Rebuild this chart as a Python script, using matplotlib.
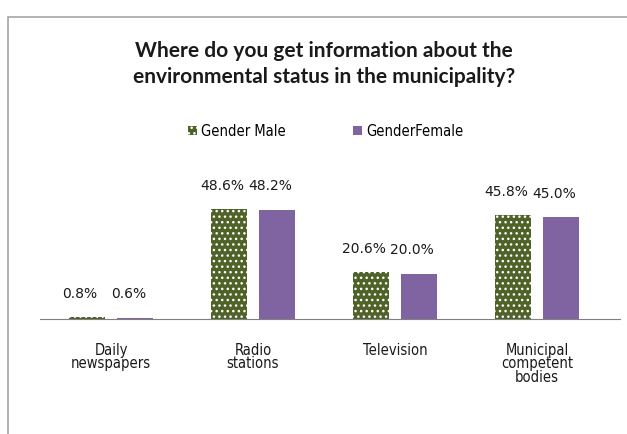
import matplotlib
matplotlib.use("Agg")
import matplotlib.pyplot as plt
from matplotlib.patches import Rectangle, Patch
import numpy as np

categories = ["Daily\nnewspapers", "Radio\nstations", "Television", "Municipal\ncompetent\nbodies"]
male = [0.8, 48.6, 20.6, 45.8]
female = [0.6, 48.2, 20.0, 45.0]
series_names = ["Gender Male", "GenderFemale"]
title = "Where do you get information about the\nenvironmental status in the municipality?"

male_color = "#4F6228"
female_color = "#8064A2"

W, H = 627, 434
plt.rcParams["hatch.linewidth"] = 1.0
fig = plt.figure(figsize=(W / 100, H / 100), dpi=100)

# chart frame
fig.add_artist(Rectangle((8 / W, -0.1), 1.2, (H - 17) / H + 0.1,
                         transform=fig.transFigure, fill=False,
                         edgecolor="#A6A6A6", linewidth=1.2))

ax = fig.add_axes([40 / W, (H - 319) / H, 580 / W, 170 / H])
x = np.arange(len(categories))
bw = 0.255
off = 0.17
bm = ax.bar(x - off, male, bw, color=male_color, edgecolor="white",
            linewidth=0, hatch="...")
bf = ax.bar(x + off, female, bw, color=female_color, linewidth=0)

ax.set_xlim(-0.5, len(categories) - 0.5 + 12 / 142)
ax.set_ylim(0, 170 / 2.26)
for s in ["top", "right", "left"]:
    ax.spines[s].set_visible(False)
ax.spines["bottom"].set_color("#808080")
ax.set_yticks([])
ax.set_xticks(x)
ax.set_xticklabels(categories, fontsize=10.5, family="DejaVu Sans",
                   fontstretch="condensed", linespacing=0.9, color="#1a1a1a")
ax.tick_params(axis="x", length=0, pad=17)

for bars, vals in [(bm, male), (bf, female)]:
    for b, v in zip(bars, vals):
        ax.annotate(f"{v:.1f}%", (b.get_x() + b.get_width() / 2, v),
                    xytext=(-5, 17), textcoords="offset points",
                    ha="center", va="center", fontsize=10, color="#1a1a1a")

fig.text(324 / W, 1 - 64 / H, title, ha="center", va="center",
         fontsize=15, fontweight="bold", family="Lato", linespacing=1.4,
         color="#1a1a1a")

handles = [Patch(facecolor=male_color, edgecolor="white", linewidth=0, hatch="..."),
           Patch(facecolor=female_color, linewidth=0)]
fig.legend(handles, series_names, loc="center", bbox_to_anchor=(326 / W, 1 - 131 / H),
           ncol=2, frameon=False, handlelength=0.6, handleheight=0.6,
           handletextpad=0.3, columnspacing=4.6,
           prop={"family": "DejaVu Sans", "stretch": "condensed", "size": 10.5})

fig.savefig("out.png", dpi=100)
